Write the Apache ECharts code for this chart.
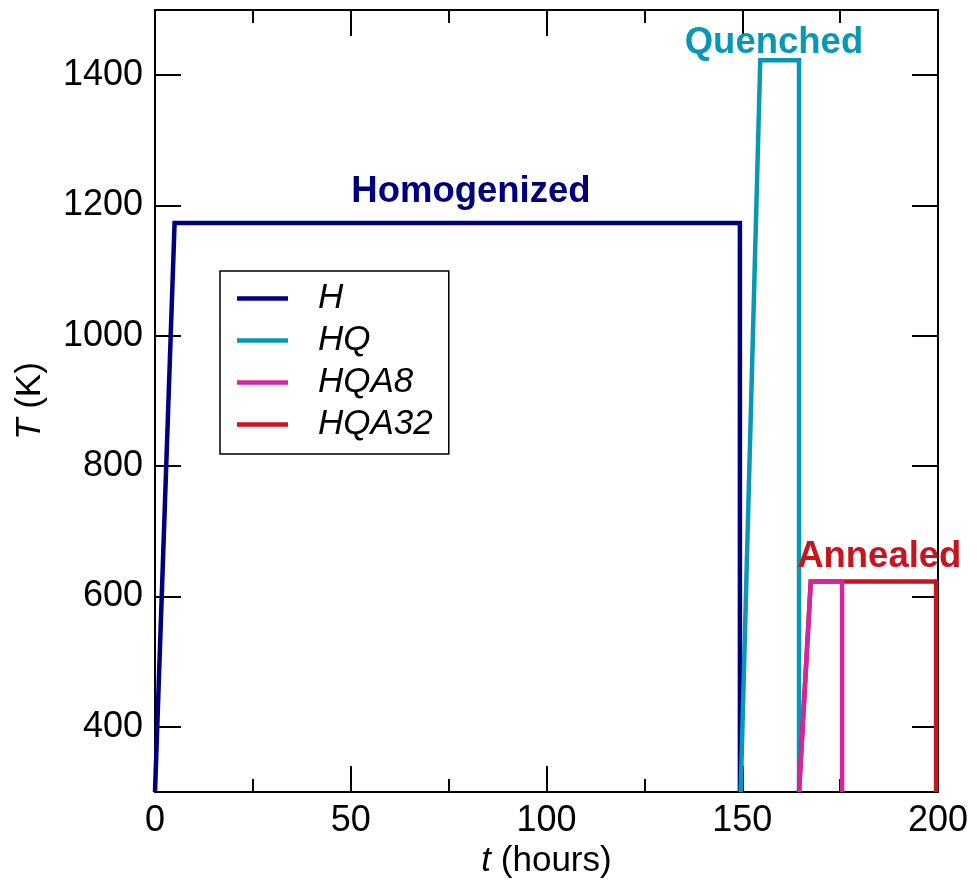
<!DOCTYPE html>
<html>
<head>
<meta charset="utf-8">
<script src="https://cdn.jsdelivr.net/npm/echarts@6/dist/echarts.min.js"></script>
<style>
  html, body { margin: 0; padding: 0; background: #fff; }
  #chart { width: 977px; height: 884px; }
</style>
</head>
<body>
<div id="chart"></div>
<script>
// Heat-treatment schedules: time (hours) vs temperature (K)
const hTime      = [0, 5, 149.4, 149.4];
const hTemp      = [300, 1173, 1173, 300];
const hqTime     = [149.6, 154.6, 164.5, 164.5];
const hqTemp     = [300, 1423, 1423, 300];
const hqa8Time   = [164.5, 167.5, 175.5, 175.5];
const hqa8Temp   = [300, 623, 623, 300];
const hqa32Time  = [164.5, 167.5, 199.5, 199.5];
const hqa32Temp  = [300, 623, 623, 300];

const seriesNames = ['H', 'HQ', 'HQA8', 'HQA32'];
const yTicks = [400, 600, 800, 1000, 1200, 1400];

// Stage annotations: [text, time, temperature]
const stageLabels = [
  ['Homogenized', 80.7, 1221],
  ['Quenched', 158.1, 1449],
  ['Annealed', 185, 661]
];

const colors = {
  H: '#00007f',
  HQ: '#0898b4',
  HQA8: '#d4259c',
  HQA32: '#c8141e'
};

const FONT = '"Liberation Sans", Arial, Helvetica, sans-serif';

function pairs(xs, ys) { return xs.map((x, i) => [x, ys[i]]); }

function stageMark(idx, color) {
  const s = stageLabels[idx];
  return {
    symbol: 'circle',
    symbolSize: 1,
    silent: true,
    itemStyle: { color: 'rgba(0,0,0,0)' },
    label: {
      show: true,
      position: 'inside',
      formatter: s[0],
      color: color,
      fontFamily: FONT,
      fontWeight: 'bold',
      fontSize: 36.5
    },
    data: [{ coord: [s[1], s[2]], value: s[0] }]
  };
}

const chart = echarts.init(document.getElementById('chart'), null, { renderer: 'canvas' });

// Frame lines must stay on the grid edges, not jump to the zero of the other axis
const axisLine = { show: true, onZero: false, lineStyle: { color: '#000', width: 2 } };

const baseX = {
  type: 'value', min: 0, max: 200, interval: 50,
  axisLine: axisLine,
  axisTick: { show: true, inside: true, length: 26, lineStyle: { color: '#000', width: 2 } },
  minorTick: { show: true, splitNumber: 2, length: 13, lineStyle: { color: '#000', width: 2 } },
  splitLine: { show: false },
  minorSplitLine: { show: false }
};
const baseY = {
  type: 'value', min: 300, max: 1500,
  axisLine: axisLine,
  axisTick: { show: true, inside: true, length: 26, customValues: yTicks, lineStyle: { color: '#000', width: 2 } },
  splitLine: { show: false }
};

chart.setOption({
  animation: false,
  backgroundColor: '#fff',
  grid: { left: 155, right: 39, top: 10, bottom: 91, containLabel: false },
  legend: {
    data: seriesNames,
    orient: 'vertical',
    left: 220, top: 271,
    backgroundColor: '#fff',
    borderColor: '#000',
    borderWidth: 1.5,
    borderRadius: 0,
    padding: [10, 16, 12, 17],
    itemGap: 7,
    itemWidth: 51,
    itemHeight: 4.5,
    icon: 'rect',
    textStyle: {
      fontFamily: FONT, fontStyle: 'italic', fontSize: 35, color: '#000',
      lineHeight: 32, padding: [0, 0, 0, 25]
    }
  },
  xAxis: [
    Object.assign({}, baseX, {
      position: 'bottom',
      name: '{i|t} (hours)',
      nameLocation: 'middle',
      nameGap: 51,
      nameTextStyle: {
        fontFamily: FONT, fontSize: 35, color: '#000',
        rich: { i: { fontFamily: FONT, fontSize: 35, fontStyle: 'italic', color: '#000' } }
      },
      axisLabel: { show: true, margin: 11, fontFamily: FONT, fontSize: 36, color: '#000' }
    }),
    Object.assign({}, baseX, {
      position: 'top',
      axisLabel: { show: false }
    })
  ],
  yAxis: [
    Object.assign({}, baseY, {
      position: 'left',
      name: '{i|T} (K)',
      nameLocation: 'middle',
      nameGap: 107,
      nameRotate: 90,
      nameTextStyle: {
        fontFamily: FONT, fontSize: 35, color: '#000',
        rich: { i: { fontFamily: FONT, fontSize: 35, fontStyle: 'italic', color: '#000' } }
      },
      axisLabel: {
        show: true, margin: 12, customValues: yTicks,
        formatter: v => String(v),
        fontFamily: FONT, fontSize: 36, color: '#000'
      }
    }),
    Object.assign({}, baseY, {
      position: 'right',
      axisLabel: { show: false }
    })
  ],
  series: [
    {
      name: 'H', type: 'line', xAxisIndex: 0, yAxisIndex: 0,
      data: pairs(hTime, hTemp), showSymbol: false, symbol: 'none',
      lineStyle: { color: colors.H, width: 4.5, join: 'miter' }, itemStyle: { color: colors.H },
      z: 2,
      markPoint: stageMark(0, colors.H)
    },
    {
      name: 'HQ', type: 'line', xAxisIndex: 0, yAxisIndex: 0,
      data: pairs(hqTime, hqTemp), showSymbol: false, symbol: 'none',
      lineStyle: { color: colors.HQ, width: 4.5, join: 'miter' }, itemStyle: { color: colors.HQ },
      z: 3,
      markPoint: stageMark(1, colors.HQ)
    },
    {
      name: 'HQA32', type: 'line', xAxisIndex: 0, yAxisIndex: 0,
      data: pairs(hqa32Time, hqa32Temp), showSymbol: false, symbol: 'none',
      lineStyle: { color: colors.HQA32, width: 4.5, join: 'miter' }, itemStyle: { color: colors.HQA32 },
      z: 4,
      markPoint: stageMark(2, colors.HQA32)
    },
    {
      name: 'HQA8', type: 'line', xAxisIndex: 0, yAxisIndex: 0,
      data: pairs(hqa8Time, hqa8Temp), showSymbol: false, symbol: 'none',
      lineStyle: { color: colors.HQA8, width: 4.5, join: 'miter' }, itemStyle: { color: colors.HQA8 },
      z: 5
    }
  ]
});
</script>
</body>
</html>
